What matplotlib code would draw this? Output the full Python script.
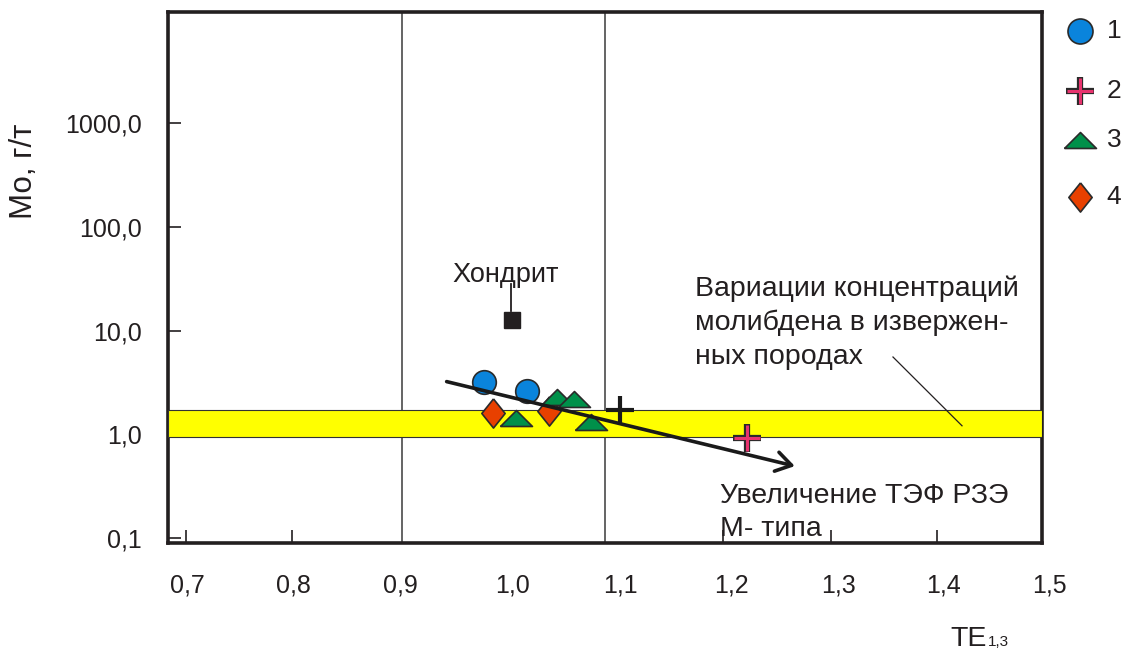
import matplotlib
matplotlib.use('Agg')
import matplotlib.pyplot as plt
from matplotlib.lines import Line2D
import numpy as np

plt.rcParams['font.family'] = ['Liberation Sans', 'DejaVu Sans']

# --- data ---
circ_x = [0.981, 1.023]
circ_y = [3.18, 2.64]
plus_x = [1.240]
plus_y = [0.92]
black_plus_x = [1.115]
black_plus_y = [1.72]
tri_x = [1.0525, 1.069, 1.012, 1.0865]
tri_y = [2.31, 2.20, 1.43, 1.33]
dia_x = [0.990, 1.045]
dia_y = [1.59, 1.69]
chondrite_x = [1.008]
chondrite_y = [12.7]
band_lo, band_hi = 0.94, 1.73
trend_start = (0.944, 3.23)
trend_end = (1.287, 0.494)

yticks = [0.1, 1, 10, 100, 1000]
ytick_labels = ['0,1', '1,0', '10,0', '100,0', '1000,0']
xtick_labels = ['0,7', '0,8', '0,9', '1,0', '1,1', '1,2', '1,3', '1,4', '1,5']
legend_labels = ['1', '2', '3', '4']

# hand-drawn layout of the original: label spots and tick marks don't sit on the grid
xlabel_at = [0.689, 0.793, 0.898, 1.009, 1.115, 1.225, 1.330, 1.433, 1.538]
xtick_marks = [0.687, 0.792, 1.216, 1.323, 1.427]

INK = '#231f20'
tri_marker = [(-1, -0.5), (1, -0.5), (0, 0.5), (-1, -0.5)]
dia_marker = [(0, 1), (0.8, 0), (0, -1), (-0.8, 0), (0, 1)]

fig = plt.figure(figsize=(11.25, 6.51), dpi=100)
ax = fig.add_axes([168/1125, 1-543/651, (1042-168)/1125, (543-12)/651])

ax.set_yscale('log')
ax.set_xlim(0.6695, 1.5305)
ax.set_ylim(0.0895, 11900)

for s in ax.spines.values():
    s.set_linewidth(2.6)
    s.set_color(INK)

ax.axvline(0.9, color='#3a3a3a', lw=1.1, zorder=1)
ax.axvline(1.1, color='#3a3a3a', lw=1.1, zorder=1)
ax.axhspan(band_lo, band_hi, facecolor='#ffff00', edgecolor='#333333', lw=0.8, zorder=3)

# y axis
ax.set_yticks(yticks)
ax.set_yticklabels(ytick_labels)
ax.yaxis.set_minor_locator(matplotlib.ticker.NullLocator())
ax.tick_params(axis='y', which='major', direction='in', length=9, width=1.2,
               color=INK, labelsize=18, labelcolor=INK, pad=19)

# x axis: tick marks only, labels as texts
ax.set_xticks(xtick_marks)
ax.set_xticklabels([])
ax.tick_params(axis='x', which='major', direction='in', length=9.5, width=1.2, color=INK)
for pos, lab in zip(xlabel_at, xtick_labels):
    ax.text(pos, -0.08, lab, transform=ax.get_xaxis_transform(), ha='center', va='center',
            fontsize=18, color=INK, clip_on=False)

# data points
ax.plot(circ_x, circ_y, ls='none', marker='o', ms=17, mfc='#0a84dc', mec='#2a2a2a', mew=1.2, zorder=5)
ax.plot(dia_x, dia_y, ls='none', marker=dia_marker, ms=21, mfc='#e84000', mec='#2a2a2a', mew=1.2, zorder=5)
ax.plot(tri_x, tri_y, ls='none', marker=tri_marker, ms=23, mfc='#00904a', mec='#2a2a2a', mew=1.2, zorder=5)
ax.plot(black_plus_x, black_plus_y, ls='none', marker='+', ms=20, mec='#1a1a1a', mew=3, zorder=5)
ax.plot(plus_x, plus_y, ls='none', marker='+', ms=20, mec='#2a2a2a', mew=4.5, zorder=5)
ax.plot(plus_x, plus_y, ls='none', marker='+', ms=18.5, mec='#e8336e', mew=2.2, zorder=5)
ax.plot(chondrite_x, chondrite_y, ls='none', marker='s', ms=12, mfc='#231f20', mec='#231f20', zorder=5)

# trend arrow
ax.annotate('', xy=trend_end, xytext=trend_start,
            arrowprops=dict(arrowstyle='->,head_length=1.1,head_width=0.7', lw=2.6,
                            color='#1a1a1a', shrinkA=0, shrinkB=0), zorder=6)

# annotations
ax.text(1.0025, 29.3, 'Хондрит', ha='center', va='baseline', fontsize=19.5, color=INK)
ax.plot([1.0074, 1.0074], [28.2, 15.6], color=INK, lw=1.3, zorder=4)

var_lines = ['Вариации концентраций', 'молибдена в изверж\u0435н-', 'ных породах']
for i, line in enumerate(var_lines):
    ax.annotate(line, xy=(1.1887, 21.7), xytext=(0, -24.6 * i), textcoords='offset points',
                ha='left', va='baseline', fontsize=20.5, color=INK)
ax.plot([1.3837, 1.4517], [5.58, 1.21], color=INK, lw=0.9, zorder=4)

inc_lines = ['Увеличение ТЭФ РЗЭ', 'М- типа']
for i, line in enumerate(inc_lines):
    ax.annotate(line, xy=(1.2133, 0.2188), xytext=(0, -24.1 * i), textcoords='offset points',
                ha='left', va='baseline', fontsize=20.5, color=INK, zorder=7)

# axis titles
fig.text(24/1125, 1-171/651, 'Мо, г/т', rotation=90, ha='center', va='center', fontsize=22.5, color=INK)
fig.text(950/1125, 1-646/651, 'TE', ha='left', va='baseline', fontsize=20.5, color=INK)
fig.text(988/1125, 1-646/651, '1,3', ha='left', va='baseline', fontsize=11, color=INK)

# legend
leg_y = [30.7, 90.7, 140, 197]
leg_styles = [
    dict(marker='o', ms=18, mfc='#0a84dc', mec='#2a2a2a', mew=1.2),
    None,
    dict(marker=tri_marker, ms=23, mfc='#00904a', mec='#2a2a2a', mew=1.2),
    dict(marker=dia_marker, ms=21, mfc='#e84000', mec='#2a2a2a', mew=1.2),
]
for yy, st, lab in zip(leg_y, leg_styles, legend_labels):
    fy = 1 - yy/651
    if st is None:
        fig.add_artist(Line2D([1080/1125], [fy], ls='none', marker='+', ms=20, mec='#2a2a2a', mew=4.5,
                              transform=fig.transFigure))
        fig.add_artist(Line2D([1080/1125], [fy], ls='none', marker='+', ms=18.5, mec='#e8336e', mew=2.2,
                              transform=fig.transFigure))
    else:
        fig.add_artist(Line2D([1080/1125], [fy], ls='none', transform=fig.transFigure, **st))
    fig.text(1114/1125, fy, lab, ha='center', va='center', fontsize=19, color=INK)

fig.savefig('out.png', dpi=100)
